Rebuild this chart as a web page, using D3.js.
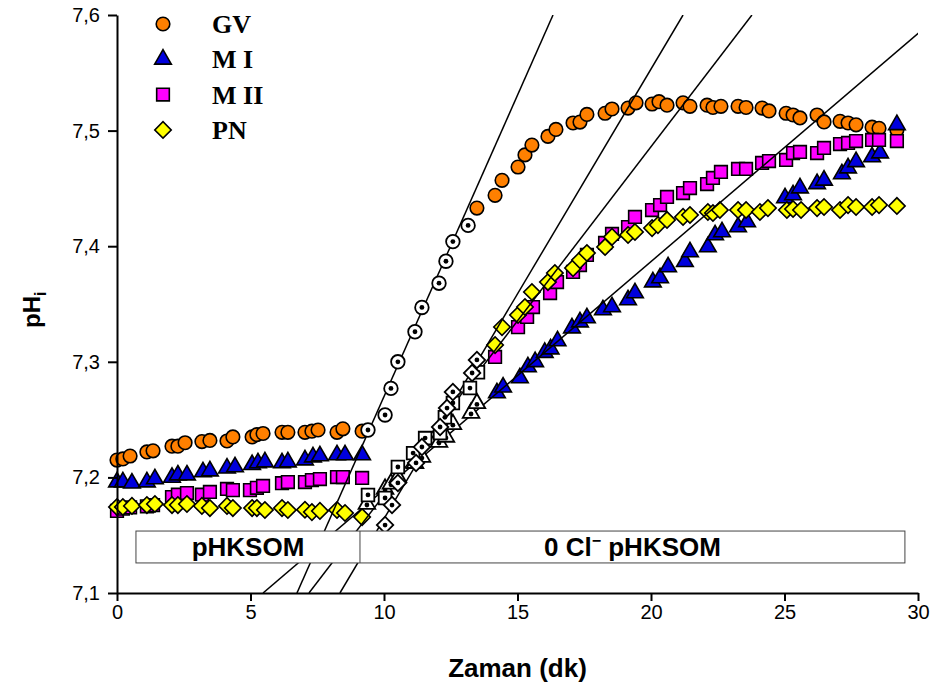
<!DOCTYPE html>
<html><head><meta charset="utf-8">
<script src="https://cdn.jsdelivr.net/npm/d3@7/dist/d3.min.js"></script>
<style>body{margin:0;background:#fff}svg{display:block}</style>
</head><body><svg id="c" width="937" height="695"></svg>
<script>
// ---------- data ----------
const seriesNames = ["GV", "M I", "M II", "PN"];
const xTicks = [0, 5, 10, 15, 20, 25, 30];
const yTicks = [7.1, 7.2, 7.3, 7.4, 7.5, 7.6];

// GV (filled)
const gvT  = [0.00,0.22,0.49,1.12,1.35,2.06,2.28,2.55,3.18,3.48,4.12,4.34,5.06,5.24,5.47,6.18,6.40,7.04,7.30,7.53,8.24,8.46,9.18,
              13.48,14.16,14.42,15.02,15.28,15.54,16.14,16.44,17.08,17.34,17.60,18.28,18.54,19.14,19.44,20.04,20.30,20.60,21.20,21.46,22.10,22.32,22.62,23.26,23.56,24.16,24.42,25.06,25.32,25.58,26.22,26.48,27.08,27.38,27.68,28.28,28.54,29.21];
const gvPH = [7.215,7.216,7.2185,7.222,7.223,7.227,7.227,7.230,7.231,7.232,7.2315,7.235,7.235,7.237,7.238,7.239,7.239,7.239,7.240,7.241,7.239,7.242,7.240,
              7.433,7.444,7.457,7.4685,7.479,7.4875,7.495,7.501,7.5066,7.5074,7.514,7.515,7.5187,7.5195,7.524,7.523,7.525,7.522,7.524,7.521,7.522,7.520,7.521,7.521,7.520,7.5195,7.517,7.515,7.5135,7.511,7.5135,7.5075,7.508,7.5066,7.505,7.503,7.502,7.5005];
// GV (fit range, open)
const gvFitT  = [9.40,10.04,10.26,10.52,11.16,11.42,12.06,12.32,12.58,13.15];
const gvFitPH = [7.241,7.254,7.277,7.300,7.326,7.347,7.368,7.387,7.404,7.418];

// M I (filled)
const m1T  = [0.00,0.22,0.56,1.12,1.42,2.06,2.28,2.62,3.22,3.48,4.12,4.42,5.06,5.28,5.54,6.18,6.40,7.04,7.34,7.60,8.24,8.54,9.18,
              14.23,14.46,15.09,15.39,15.66,16.02,16.24,16.50,17.04,17.34,17.60,18.20,18.54,19.14,19.40,20.07,20.34,20.64,21.27,21.46,22.13,22.40,22.66,23.26,23.60,25.02,25.32,25.58,26.22,26.48,27.15,27.38,27.68,28.28,28.58,29.21];
const m1PH = [7.196,7.196,7.195,7.196,7.1986,7.200,7.202,7.202,7.2047,7.2055,7.208,7.209,7.211,7.2125,7.2133,7.2125,7.2133,7.215,7.2176,7.2185,7.2194,7.2194,7.2194,
              7.273,7.278,7.286,7.2955,7.300,7.308,7.311,7.318,7.3292,7.3344,7.3379,7.3448,7.3474,7.3535,7.3595,7.369,7.3725,7.382,7.3866,7.395,7.3993,7.4097,7.4123,7.4166,7.421,7.4417,7.4443,7.4503,7.454,7.457,7.4625,7.4676,7.473,7.4772,7.4806,7.505];
const m1FitT  = [9.36,10.04,10.26,10.52,11.16,11.42,12.06,12.32,12.58,13.26,13.48];
const m1FitPH = [7.177,7.190,7.1945,7.2,7.2123,7.2176,7.2306,7.235,7.246,7.2557,7.264];

// M II (filled)
const m2T  = [0.00,0.22,0.49,1.12,1.35,2.06,2.28,2.62,3.18,3.48,4.12,4.34,4.98,5.24,5.47,6.18,6.40,7.04,7.30,7.60,8.24,8.46,9.18,
              14.16,15.02,15.36,15.58,16.22,16.48,17.08,17.34,17.60,18.28,18.54,19.14,19.40,20.04,20.34,20.60,21.20,21.46,22.10,22.32,22.62,23.26,23.56,24.16,24.42,25.06,25.32,25.58,26.22,26.48,27.08,27.38,27.68,28.28,28.54,29.21];
const m2PH = [7.171,7.173,7.174,7.175,7.176,7.183,7.185,7.1865,7.185,7.1874,7.190,7.189,7.189,7.191,7.1926,7.195,7.196,7.196,7.1977,7.1986,7.2003,7.2003,7.1995,
              7.3042,7.330,7.3388,7.3474,7.3595,7.369,7.3777,7.3837,7.3924,7.4028,7.4106,7.4166,7.4253,7.4313,7.4356,7.4426,7.446,7.4503,7.4538,7.459,7.4642,7.4668,7.4668,7.472,7.4737,7.4746,7.4806,7.4815,7.4806,7.485,7.4884,7.4893,7.491,7.4919,7.4919,7.491];
const m2FitT  = [9.40,10.04,10.52,11.09,11.54,12.10,12.28,12.58,13.22,13.52];
const m2FitPH = [7.1848,7.1822,7.209,7.221,7.234,7.2384,7.252,7.2644,7.2773,7.291];

// PN (filled)
const pnT  = [0.00,0.22,0.56,1.12,1.42,2.06,2.28,2.62,3.18,3.48,4.12,4.34,5.06,5.24,5.54,6.18,6.40,7.04,7.30,7.60,8.24,8.54,9.18,
              14.16,14.42,15.02,15.28,15.54,16.14,16.40,17.08,17.34,17.60,18.28,18.54,19.14,19.40,20.04,20.26,20.60,21.20,21.46,22.13,22.32,22.58,23.26,23.56,24.08,24.38,25.09,25.32,25.62,26.22,26.48,27.08,27.38,27.68,28.28,28.54,29.21];
const pnPH = [7.1744,7.1744,7.1753,7.1761,7.177,7.1761,7.1761,7.177,7.1753,7.1735,7.1753,7.1735,7.1735,7.1735,7.1718,7.1735,7.1718,7.172,7.170,7.171,7.1718,7.1692,7.1657,
              7.3145,7.330,7.3405,7.3474,7.3604,7.369,7.3768,7.3811,7.388,7.3941,7.3993,7.408,7.4097,7.4123,7.4157,7.4183,7.4227,7.4253,7.427,7.4296,7.4287,7.4313,7.4313,7.4313,7.4296,7.433,7.4313,7.4322,7.4313,7.433,7.4339,7.4313,7.4356,7.4339,7.4339,7.4356,7.4348];
const pnFitT  = [10.04,10.30,10.52,11.20,11.42,12.10,12.36,12.58,13.30,13.48];
const pnFitPH = [7.1588,7.1761,7.1952,7.2125,7.2263,7.2436,7.260,7.2739,7.2903,7.3016];

// regression lines: two points (time, pH) on each (GV, M I, M II, PN)
const lineT1  = [6.74, 5.47, 7.19, 8.35];
const linePH1 = [7.1, 7.1, 7.1, 7.1];
const lineT2  = [16.33, 30.0, 23.78, 21.2];
const linePH2 = [7.6, 7.584, 7.6, 7.6];

// solution bar
const phaseNames = ["pHKSOM", "0 Cl", " pHKSOM"];
const phaseT = [0.71, 9.10, 29.51];
const phasePH = [7.126, 7.1536];

// ---------- drawing ----------
const svg = d3.select("#c");
const x = d3.scaleLinear().domain([0, 30]).range([117, 918]);
const y = d3.scaleLinear().domain([7.1, 7.6]).range([593, 15]);

const colors = ["#FF8000", "#0000DD", "#FF00FF", "#FFFF00"];
const shapes = [d3.symbolCircle, d3.symbolTriangle, d3.symbolSquare, d3.symbolSquare];
const sizes = [145, 120, 160, 135];
const rot = [0, 0, 0, 45];
const fonts = "'Liberation Sans', Arial, sans-serif";

const filled = [[gvT, gvPH], [m1T, m1PH], [m2T, m2PH], [pnT, pnPH]];
const fits = [[gvFitT, gvFitPH], [m1FitT, m1FitPH], [m2FitT, m2FitPH], [pnFitT, pnFitPH]];

svg.append("defs").append("clipPath").attr("id", "pa")
  .append("rect").attr("x", x(0)).attr("y", y(7.6)).attr("width", x(30) - x(0)).attr("height", y(7.1) - y(7.6));

// filled markers
filled.forEach((s, i) => {
  const pts = s[0].map((t, k) => ({ t, v: s[1][k] }));
  svg.append("g").selectAll("path").data(pts).join("path")
    .attr("d", d3.symbol().type(shapes[i]).size(sizes[i]))
    .attr("transform", d => `translate(${x(d.t)},${y(d.v)}) rotate(${rot[i]})`)
    .attr("fill", colors[i]).attr("stroke", "#000").attr("stroke-width", 1.6);
});

// regression lines (extended to plot frame)
const lg = svg.append("g").attr("clip-path", "url(#pa)");
lineT1.forEach((t1, i) => {
  const sl = (linePH2[i] - linePH1[i]) / (lineT2[i] - lineT1[i]);
  const ta = t1 + (7.1 - linePH1[i]) / sl, tb = t1 + (7.6 - linePH1[i]) / sl;
  lg.append("line").attr("x1", x(ta)).attr("y1", y(7.1)).attr("x2", x(tb)).attr("y2", y(7.6))
    .attr("stroke", "#000").attr("stroke-width", 1.5);
});

// fit-range (open) markers
fits.forEach((s, i) => {
  const pts = s[0].map((t, k) => ({ t, v: s[1][k] }));
  const g = svg.append("g").selectAll("g").data(pts).join("g")
    .attr("transform", d => `translate(${x(d.t)},${y(d.v)})`);
  g.append("path").attr("d", d3.symbol().type(shapes[i]).size(sizes[i]))
    .attr("transform", `rotate(${rot[i]})`)
    .attr("fill", "#fff").attr("stroke", "#000").attr("stroke-width", 1.8);
  g.append("circle").attr("r", 2.4).attr("cy", i === 1 ? 1 : 0).attr("fill", "#000");
});

// solution bar
const bar = svg.append("g");
bar.append("rect").attr("x", x(phaseT[0])).attr("y", y(phasePH[1]))
  .attr("width", x(phaseT[2]) - x(phaseT[0])).attr("height", y(phasePH[0]) - y(phasePH[1]))
  .attr("fill", "#fff").attr("stroke", "#444").attr("stroke-width", 1);
bar.append("line").attr("x1", x(phaseT[1])).attr("x2", x(phaseT[1]))
  .attr("y1", y(phasePH[1])).attr("y2", y(phasePH[0])).attr("stroke", "#444");
const barMid = y((phasePH[0] + phasePH[1]) / 2) + 9;
bar.append("text").attr("x", (x(phaseT[0]) + x(phaseT[1])) / 2).attr("y", barMid)
  .attr("text-anchor", "middle").attr("font-family", fonts).attr("font-weight", "bold").attr("font-size", 26)
  .text(phaseNames[0]);
const t2 = bar.append("text").attr("x", (x(phaseT[1]) + x(phaseT[2])) / 2).attr("y", barMid)
  .attr("text-anchor", "middle").attr("font-family", fonts).attr("font-weight", "bold").attr("font-size", 26);
t2.append("tspan").text(phaseNames[1]);
t2.append("tspan").attr("dy", -10).attr("font-size", 16).text("−");
t2.append("tspan").attr("dy", 10).text(phaseNames[2]);

// axes
const yAxis = svg.append("g").attr("transform", `translate(${x(0)},0)`)
  .call(d3.axisLeft(y).tickValues(yTicks).tickSize(9).tickSizeOuter(0).tickPadding(8)
    .tickFormat(d => d3.format(".1f")(d).replace(".", ",")));
const xAxis = svg.append("g").attr("transform", `translate(0,${y(7.1)})`)
  .call(d3.axisBottom(x).tickValues(xTicks).tickSize(8).tickSizeOuter(0).tickPadding(4));
[yAxis, xAxis].forEach(a => {
  a.selectAll("path,line").attr("stroke", "#000").attr("stroke-width", 2);
  a.selectAll("text").attr("font-family", fonts).attr("font-size", 20).attr("fill", "#000");
});

// axis titles
svg.append("text").attr("x", x(15)).attr("y", 677).attr("text-anchor", "middle")
  .attr("font-family", fonts).attr("font-weight", "bold").attr("font-size", 26).text("Zaman (dk)");
const yl = svg.append("text").attr("transform", `translate(40,${y(7.345)}) rotate(-90)`)
  .attr("text-anchor", "middle").attr("font-family", fonts).attr("font-weight", "bold").attr("font-size", 24);
yl.append("tspan").text("pH");
yl.append("tspan").attr("dy", 6).attr("font-size", 16).text("i");

// legend
const leg = svg.append("g");
seriesNames.forEach((n, i) => {
  const ly = 24 + i * 35.3;
  leg.append("path").attr("d", d3.symbol().type(shapes[i]).size(sizes[i]))
    .attr("transform", `translate(163,${ly}) rotate(${rot[i]})`)
    .attr("fill", colors[i]).attr("stroke", "#000").attr("stroke-width", 1.6);
  leg.append("text").attr("x", 212).attr("y", ly + 9).attr("font-family", "'Liberation Serif', 'Times New Roman', serif")
    .attr("font-weight", "bold").attr("font-size", 26).text(n);
});
</script></body></html>
